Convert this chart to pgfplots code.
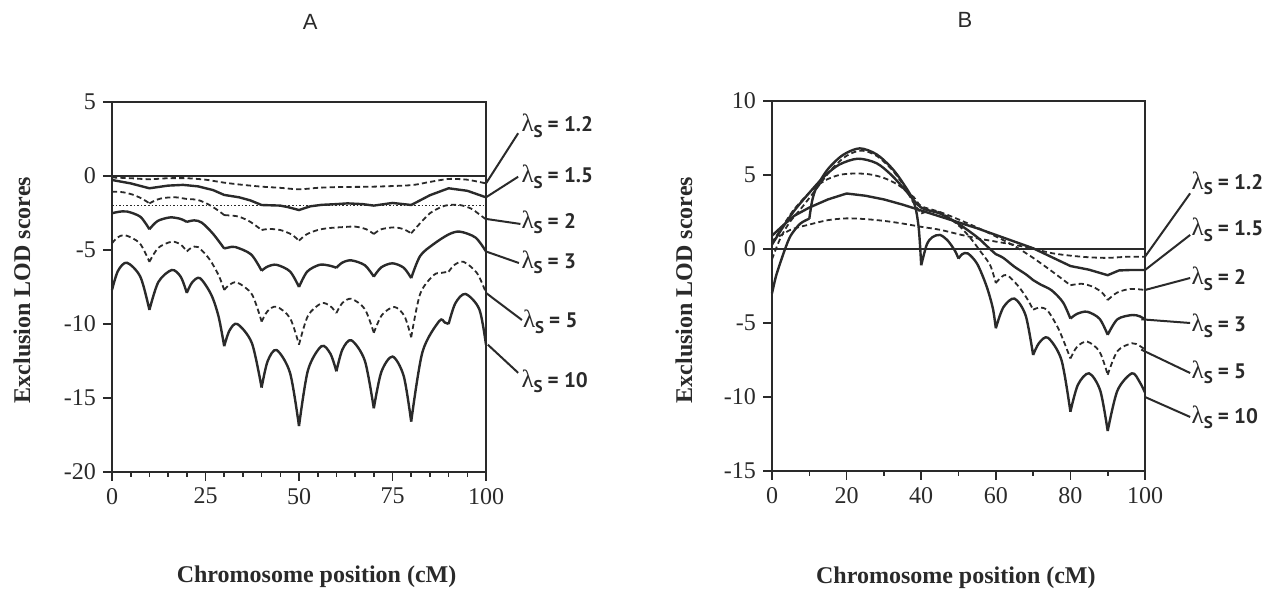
\documentclass[border=0pt]{standalone}
\usepackage{fontspec}
\setmainfont{Liberation Serif}
\newfontfamily\labfont{PT Sans}
\newfontfamily\lamfont{Liberation Serif}
\newfontfamily\titfont{Liberation Sans}
\usepackage{pgfplots}
\pgfplotsset{compat=1.18}
\definecolor{ink}{HTML}{2A2A2A}
\newcommand\lam[1]{{\lamfont\fontsize{12.5}{12}\selectfont λ}{\labfont\bfseries\fontsize{8.5}{8}\selectfont\raisebox{-2.8pt}{S}}\hspace{2.5pt}{\labfont\bfseries\fontsize{10.5}{12}\selectfont = #1}}
\pgfplotsset{
  lod/.style={
    scale only axis, width=187pt, height=185pt, xmin=0, xmax=100,
    clip=false, unbounded coords=jump,
    axis line style={line width=0.9pt, draw=ink},
    every tick/.style={line width=0.8pt, draw=ink},
    tick align=outside, major tick length=4.5pt, minor tick length=2.5pt,
    xtick pos=bottom, ytick pos=left,
    tick label style={font=\fontsize{12}{14}\selectfont, text=ink},
    /pgf/number format/assume math mode=true,
  },
  sol/.style={line width=1.2pt, draw=ink},
  das/.style={line width=0.9pt, draw=ink, dash pattern=on 2.6pt off 1.6pt},
}
\tikzset{
  lead/.style={line width=1pt, draw=ink},
  albl/.style={font=\bfseries\fontsize{12}{14}\selectfont, text=ink},
}
\begin{document}
\begin{tikzpicture}
\path[use as bounding box] (0,0) rectangle (639pt,299.5pt);
% ---------------- Panel A ----------------
\begin{axis}[lod, at={(56pt,63.5pt)}, anchor=south west,
  ymin=-20, ymax=5, ytick={-20,-15,-10,-5,0,5},
  xtick={0,25,50,75,100}, minor x tick num=4]
\addplot[line width=0.9pt, draw=ink] coordinates {(0,0) (100,0)};
\addplot[line width=0.8pt, draw=ink, dash pattern=on 0.8pt off 1pt] coordinates {(0,-2) (100,-2)};
% lambda = 1.2
\addplot[das, smooth, tension=0.4] coordinates {(0,-0.1) (5,-0.15) (10,-0.22) (15,-0.15) (20,-0.15) (25,-0.25) (30,-0.45) (35,-0.6) (40,-0.72) (45,-0.8) (50,-0.9) (55,-0.8) (60,-0.75) (70,-0.72) (80,-0.62) (85,-0.4) (90,-0.2) (95,-0.25) (100,-0.5)};
% lambda = 1.5
\addplot[sol] coordinates {(0,-0.27) (5,-0.5) (10,-0.83) (15,-0.65) (19,-0.6) (23,-0.7) (27,-0.95) (30,-1.28) (34,-1.44) (37,-1.65) (40,-1.96) (45,-2.0) (47,-2.1) (50,-2.3) (53,-2.05) (56,-1.95) (60,-1.9) (63,-1.85) (67,-1.9) (70,-2.0) (75,-1.82) (80,-1.96) (85,-1.3) (90,-0.83) (95,-1.0) (100,-1.44)};
% lambda = 2
\addplot[das, smooth, tension=0.5] coordinates {
(0,-1.06) (3,-1.1) (6,-1.3) (8.5,-1.6) (10,-1.85) (nan,nan)
(10,-1.85) (12,-1.6) (14,-1.48) (17,-1.44) (20,-1.55) (23,-1.62) (26,-1.95) (28.5,-2.35) (30,-2.64) (nan,nan)
(30,-2.64) (32,-2.68) (34,-2.75) (37,-3.1) (40,-3.65) (nan,nan)
(40,-3.65) (42,-3.58) (45,-3.65) (48,-3.95) (50,-4.37) (nan,nan)
(50,-4.37) (52,-3.95) (55,-3.65) (58,-3.52) (62,-3.45) (65,-3.42) (68,-3.6) (70,-3.92) (nan,nan)
(70,-3.92) (72,-3.6) (75.5,-3.47) (78,-3.6) (80,-3.87) (nan,nan)
(80,-3.87) (82,-3.3) (85,-2.52) (88,-2.1) (90,-1.96) (93,-1.96) (96,-2.2) (98,-2.55) (100,-2.93)};
% lambda = 3
\addplot[sol, smooth, tension=0.5] coordinates {
(0,-2.52) (1.6,-2.43) (4,-2.4) (7.6,-2.76) (10,-3.6) (nan,nan)
(10,-3.6) (12.2,-3.04) (15.5,-2.8) (18.2,-2.89) (20,-3.1) (nan,nan)
(20,-3.1) (22,-3.0) (24,-3.15) (27,-3.9) (30,-4.9) (nan,nan)
(30,-4.9) (31.2,-4.83) (33,-4.8) (37.2,-5.3) (40,-6.4) (nan,nan)
(40,-6.4) (41.6,-6.12) (44,-6.0) (47.6,-6.45) (50,-7.5) (nan,nan)
(50,-7.5) (52.2,-6.46) (55.5,-6.0) (58.2,-6.06) (60,-6.2) (nan,nan)
(60,-6.2) (61.6,-5.85) (64,-5.7) (67.6,-6.03) (70,-6.8) (nan,nan)
(70,-6.8) (72,-6.17) (75,-5.9) (78,-6.2) (80,-6.9) (nan,nan)
(80,-6.9) (82.4,-5.4) (86,-4.6) (90,-3.95) (93,-3.76) (97.2,-4.16) (100,-5.1)};
% lambda = 5
\addplot[das, smooth, tension=0.5] coordinates {
(0,-4.55) (1.4,-4.17) (3.5,-4.0) (7.4,-4.54) (10,-5.8) (nan,nan)
(10,-5.8) (12.4,-4.85) (16,-4.44) (18.4,-4.64) (20,-5.1) (nan,nan)
(20,-5.1) (21.2,-4.85) (23,-4.8) (26,-5.6) (28.5,-6.7) (30,-7.7) (nan,nan)
(30,-7.7) (31.4,-7.35) (33.5,-7.2) (37.4,-7.99) (40,-9.84) (nan,nan)
(40,-9.84) (41.6,-9.13) (44,-8.83) (47.6,-9.6) (50,-11.4) (nan,nan)
(50,-11.4) (52.4,-9.44) (56,-8.6) (58.4,-8.8) (60,-9.26) (nan,nan)
(60,-9.26) (61.6,-8.58) (64,-8.3) (67.6,-8.99) (70,-10.6) (nan,nan)
(70,-10.6) (72.2,-9.38) (75.5,-8.85) (78.2,-9.47) (80,-10.9) (nan,nan)
(80,-10.9) (82.4,-7.96) (86,-6.7) (88,-6.55) (90,-6.47) (nan,nan)
(90,-6.47) (91.6,-6.0) (94,-5.8) (97.6,-6.56) (100,-7.9)};
% lambda = 10
\addplot[sol, smooth, tension=0.5] coordinates {
(0,-7.7) (1.6,-6.41) (4,-5.86) (7.6,-6.82) (10,-9.05) (nan,nan)
(10,-9.05) (12.4,-7.16) (16,-6.35) (18.4,-6.82) (20,-7.9) (nan,nan)
(20,-7.9) (21.4,-7.2) (23.5,-6.9) (26.5,-8.0) (28.5,-9.5) (30,-11.5) (nan,nan)
(30,-11.5) (31.4,-10.45) (33.5,-10.0) (37.4,-11.29) (40,-14.3) (nan,nan)
(40,-14.3) (41.6,-12.52) (44,-11.76) (47.6,-13.3) (50,-16.9) (nan,nan)
(50,-16.9) (52.4,-13.12) (56,-11.5) (58.4,-12.01) (60,-13.2) (nan,nan)
(60,-13.2) (61.6,-11.73) (64,-11.1) (67.6,-12.48) (70,-15.7) (nan,nan)
(70,-15.7) (72,-13.25) (75,-12.2) (78,-13.52) (80,-16.6) (nan,nan)
(80,-16.6) (83,-11.9) (87.5,-9.8) (89,-9.9) (90,-10.0) (nan,nan)
(90,-10.0) (91.8,-8.6) (94.5,-7.97) (98.2,-9.0) (100,-11.4)};
% leaders and labels
\draw[lead] (axis cs:100,-0.5) -- (axis cs:108.6,2.89);
\draw[lead] (axis cs:100,-1.44) -- (axis cs:108.6,-0.05);
\draw[lead] (axis cs:100,-2.9) -- (axis cs:109.2,-3.24);
\draw[lead] (axis cs:100,-5.1) -- (axis cs:108.8,-5.88);
\draw[lead] (axis cs:100,-7.9) -- (axis cs:109.6,-9.73);
\draw[lead] (axis cs:100.5,-11.4) -- (axis cs:108.6,-13.3);
\node[anchor=base west, inner sep=0pt, text=ink] at (axis cs:109.4,2.99) {\lam{1.2}};
\node[anchor=base west, inner sep=0pt, text=ink] at (axis cs:109.4,-0.45) {\lam{1.5}};
\node[anchor=base west, inner sep=0pt, text=ink] at (axis cs:109.4,-3.53) {\lam{2}};
\node[anchor=base west, inner sep=0pt, text=ink] at (axis cs:109.4,-6.22) {\lam{3}};
\node[anchor=base west, inner sep=0pt, text=ink] at (axis cs:109.8,-10.27) {\lam{5}};
\node[anchor=base west, inner sep=0pt, text=ink] at (axis cs:109.4,-14.26) {\lam{10}};
\node[font=\titfont\fontsize{11}{12}\selectfont, text=ink] at (axis cs:53,10.4) {A};
\node[albl, rotate=90] at (axis cs:-24.1,-7.7) {Exclusion LOD scores};
\node[albl] at (axis cs:54.7,-27.1) {Chromosome position (cM)};
\end{axis}
% ---------------- Panel B ----------------
\begin{axis}[lod, at={(386pt,64pt)}, anchor=south west, width=186.5pt,
  ymin=-15, ymax=10, ytick={-15,-10,-5,0,5,10},
  xtick={0,20,40,60,80,100}, minor x tick num=1]
\addplot[line width=0.9pt, draw=ink] coordinates {(0,0) (100,0)};
% lambda = 1.2
\addplot[das, smooth, tension=0.5] coordinates {(0,0.55) (5,1.3) (10,1.65) (15,1.95) (20,2.07) (25,2.02) (30,1.9) (35,1.72) (40,1.5) (45,1.3) (50,1.0) (55,0.72) (60,0.5) (65,0.28) (70,0.02) (75,-0.28) (80,-0.45) (85,-0.56) (90,-0.6) (95,-0.53) (100,-0.52)};
% lambda = 1.5
\addplot[sol] coordinates {(0,0.9) (3,1.6) (6,2.25) (10,2.8) (15,3.35) (20,3.75) (25,3.6) (30,3.35) (35,3.0) (40,2.6) (45,2.2) (50,1.8) (55,1.4) (60,0.95) (65,0.5) (70,0.05) (75,-0.55) (80,-1.15) (85,-1.4) (90,-1.77) (93,-1.45) (96,-1.42) (100,-1.42)};
% lambda = 2
\addplot[das, smooth, tension=0.5] coordinates {
(0,0.4) (3,1.6) (6,2.7) (10,3.8) (14,4.6) (18,5.0) (22,5.1) (26,5.05) (30,4.8) (34,4.3) (38,3.5) (40,2.9) (45,2.5) (50,2.0) (55,1.45) (60,0.85) (65,0.2) (70,-0.6) (75,-1.5) (80,-2.45) (nan,nan)
(80,-2.45) (83,-2.35) (86,-2.55) (88.5,-2.95) (90,-3.45) (nan,nan)
(90,-3.45) (92.5,-2.95) (96,-2.7) (100,-2.77)};
% lambda = 3
\addplot[sol, smooth, tension=0.5] coordinates {
(0,0.3) (3,1.5) (6,2.6) (10,3.8) (14,4.9) (18,5.7) (23,6.1) (28,5.8) (32,5.0) (36,3.9) (40,2.8) (45,2.4) (50,1.7) (55,0.8) (58,0.1) (60,-0.35) (nan,nan)
(60,-0.35) (62,-0.6) (65,-1.2) (68,-1.7) (70,-2.1) (nan,nan)
(70,-2.1) (72,-2.4) (75,-2.8) (78,-3.6) (80,-4.7) (nan,nan)
(80,-4.7) (81.8,-4.38) (84.5,-4.24) (87.8,-4.71) (90,-5.8) (nan,nan)
(90,-5.8) (92.6,-4.75) (96.5,-4.46) (98.6,-4.55) (100,-4.75)};
% lambda = 5
\addplot[das, smooth, tension=0.5] coordinates {
(0,-0.7) (1.5,0.3) (3,1.1) (5,1.9) (8,2.8) (12,4.1) (16,5.4) (20,6.3) (24,6.65) (28,6.3) (32,5.4) (35,4.4) (38,3.1) (40,2.4) (nan,nan)
(40,2.4) (43,2.6) (46,2.35) (50,1.6) (53,0.8) (56,-0.2) (58.5,-1.1) (60,-2.3) (nan,nan)
(60,-2.3) (61.5,-1.9) (63,-1.76) (66,-2.5) (68.5,-3.4) (70,-4.1) (nan,nan)
(70,-4.1) (72,-3.95) (74,-4.2) (77,-5.5) (80,-7.4) (nan,nan)
(80,-7.4) (81.8,-6.6) (84.5,-6.26) (87.8,-6.93) (90,-8.5) (nan,nan)
(90,-8.5) (92.6,-6.9) (96.5,-6.37) (98.6,-6.55) (100,-6.8)};
% lambda = 10
\addplot[sol, smooth, tension=0.5] coordinates {
(0,-3.0) (1,-1.9) (2,-1.1) (3.5,0.0) (5,0.9) (7.5,1.7) (10,2.05) (nan,nan)
(10,2.05) (10.8,3.3) (12,4.2) (15,5.4) (19,6.35) (23.5,6.8) (28,6.4) (32,5.5) (35,4.5) (38,3.2) (39.3,1.5) (40,-1.1) (nan,nan)
(40,-1.1) (41.5,0.3) (43,0.8) (45,0.95) (47,0.6) (49,-0.1) (50,-0.65) (nan,nan)
(50,-0.65) (51,-0.35) (52.5,-0.3) (55,-1.0) (57.5,-2.5) (59.2,-4.0) (60,-5.36) (nan,nan)
(60,-5.36) (62,-3.95) (65,-3.35) (68,-4.49) (70,-7.16) (nan,nan)
(70,-7.16) (71.6,-6.35) (74,-6.0) (77.6,-7.5) (80,-11.0) (nan,nan)
(80,-11.0) (82,-9.18) (85,-8.4) (88,-9.57) (90,-12.3) (nan,nan)
(90,-12.3) (92.6,-9.57) (96.5,-8.4) (98.6,-9.0) (100,-9.7)};
% leaders and labels
\draw[lead] (axis cs:100,-0.52) -- (axis cs:112.1,3.76);
\draw[lead] (axis cs:100,-1.42) -- (axis cs:112.1,0.95);
\draw[lead] (axis cs:100,-2.77) -- (axis cs:112.1,-1.96);
\draw[lead] (axis cs:99,-4.75) -- (axis cs:112.1,-5.0);
\draw[lead] (axis cs:99,-6.8) -- (axis cs:112.1,-8.38);
\draw[lead] (axis cs:100,-10.0) -- (axis cs:112.1,-11.35);
\node[anchor=base west, inner sep=0pt, text=ink] at (axis cs:112.4,4.05) {\lam{1.2}};
\node[anchor=base west, inner sep=0pt, text=ink] at (axis cs:112.4,0.88) {\lam{1.5}};
\node[anchor=base west, inner sep=0pt, text=ink] at (axis cs:112.4,-2.43) {\lam{2}};
\node[anchor=base west, inner sep=0pt, text=ink] at (axis cs:112.4,-5.59) {\lam{3}};
\node[anchor=base west, inner sep=0pt, text=ink] at (axis cs:112.4,-8.72) {\lam{5}};
\node[anchor=base west, inner sep=0pt, text=ink] at (axis cs:112.4,-11.76) {\lam{10}};
\node[font=\titfont\fontsize{11}{12}\selectfont, text=ink] at (axis cs:51.7,15.5) {B};
\node[albl, rotate=90] at (axis cs:-23.6,-2.77) {Exclusion LOD scores};
\node[albl] at (axis cs:49.3,-22.2) {Chromosome position (cM)};
\end{axis}
\end{tikzpicture}
\end{document}
